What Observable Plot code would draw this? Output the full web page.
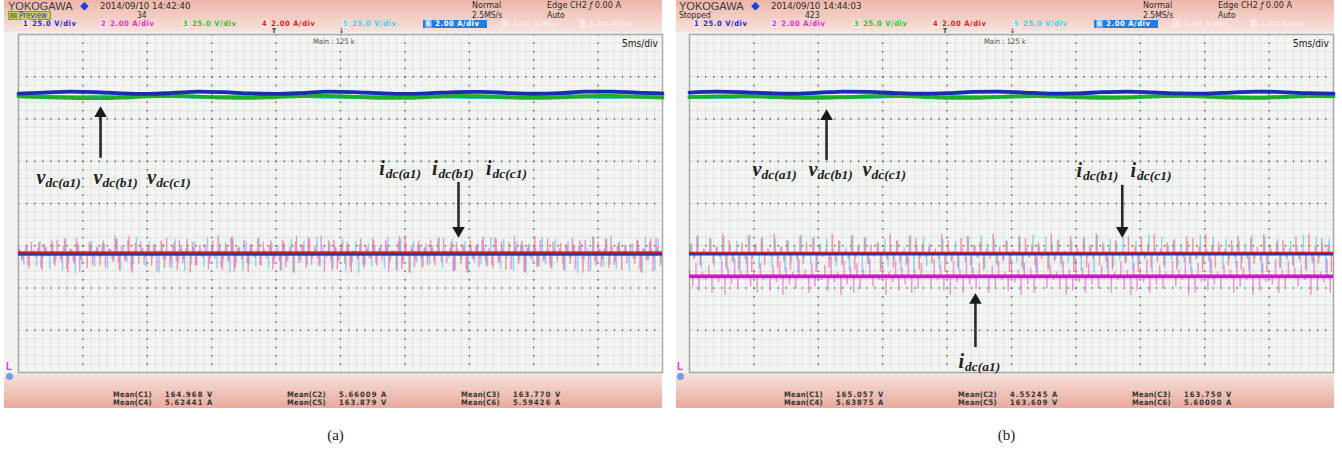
<!DOCTYPE html>
<html>
<head>
<meta charset="utf-8">
<script src="https://cdn.jsdelivr.net/npm/d3@7"></script>
<script src="https://cdn.jsdelivr.net/npm/@observablehq/plot@0.6"></script>
<style>
html,body{margin:0;padding:0;background:#fff;}
#wrap{position:relative;width:1342px;height:450px;overflow:hidden;}
.panel{position:absolute;top:0;width:671px;height:450px;}
.bg{position:absolute;top:0;width:658px;height:408px;background:linear-gradient(to bottom,#edb6a9 0px,#f7e1db 31px,#f1f1ef 33px,#f1f1ef 373px,#f7e1db 374px,#e8aa9b 408px);}
.svgbox{position:absolute;left:0;top:0;}
.t{position:absolute;white-space:nowrap;line-height:1;font-family:"Liberation Sans Narrow","DejaVu Sans Condensed","Liberation Sans",sans-serif;color:#2a2a2a;}
.cap{position:absolute;left:0;width:671px;top:427px;text-align:center;font-family:"Liberation Serif","DejaVu Serif",serif;font-size:15px;color:#222;}
</style>
</head>
<body>
<div id="wrap"></div>
<script>
// ---------- data ----------
const channelNames = ["C1","C2","C3","C4","C5","C6"];
const channelUnits = ["V","A","V","A","V","A"];
const channelPerDiv = [25, 2, 25, 2, 25, 2];
const channelSettingLabels = ["25.0 V/div","2.00 A/div","25.0 V/div","2.00 A/div","25.0 V/div","2.00 A/div","2.00 A/div","1.00 A/div"];
const channelSettingColors = ["#2a2ad0","#e02ed0","#2ec82e","#e42020","#3cd4e4","#ffffff","#fbeeea","#fbeeea"];
const traceColors = ["#1c2cb0","#c81cbc","#1fae2a","#d81c2c","#2ec4d6","#2240a8"];
const spikeColors = [null,"#e45cd0",null,"#f0606c",null,"#5cbcf0"];
const zeroPositionDiv = -4;
const timeDomainMs = [0, 50];
const verticalDomainDiv = [-4, 4];
const voltageStepMs = 2;
const spikeUnitA = 0.1;

const dateTimes = ["2014/09/10 14:42:40","2014/09/10 14:44:03"];
const acqCounts = ["34","423"];
const acqStates = ["Preview","Stopped"];
const captions = ["(a)","(b)"];

const meanA = [164.968, 5.66009, 163.770, 5.62441, 163.879, 5.59426];
const meanB = [165.057, 4.55245, 163.750, 5.63875, 163.609, 5.60000];

// dc-link voltages (V), one value every 2 ms
const voltA_C1 = [164.7,165.2,165.9,165.6,164.8,164.5,165.1,165.9,165.5,164.8,164.5,165.0,165.8,165.6,164.9,164.5,164.9,165.6,165.7,165.0,164.6,164.9,165.8,165.9,165.2,164.8];
const voltA_C3 = [163.9,163.5,163.1,162.9,163.2,163.9,164.2,163.8,163.2,163.0,163.5,164.1,164.2,163.6,163.1,163.0,163.6,164.2,164.0,163.3,163.0,163.3,164.0,164.2,163.7,163.2];
const voltA_C5 = [164.2,163.7,163.3,163.6,164.2,164.4,163.9,163.4,163.5,164.1,164.4,164.0,163.4,163.5,164.0,164.4,164.1,163.5,163.3,163.8,164.3,164.2,163.6,163.3,163.7,164.2];
const voltB_C1 = [165.3,165.8,165.6,164.9,164.6,165.2,165.9,165.7,165.0,164.6,164.9,165.7,165.9,165.3,164.7,164.8,165.5,165.9,165.4,164.8,164.7,165.3,165.9,165.6,164.9,164.7];
const voltB_C3 = [163.5,163.9,164.1,163.7,163.2,163.0,163.4,164.0,164.2,163.7,163.1,163.0,163.6,164.1,164.0,163.4,163.0,163.2,163.9,164.2,163.8,163.2,163.0,163.5,164.1,164.0];
const voltB_C5 = [163.6,163.3,163.6,164.1,164.2,163.8,163.3,163.4,163.9,164.3,164.0,163.4,163.3,163.8,164.2,164.1,163.5,163.3,163.7,164.2,164.1,163.6,163.2,163.5,164.0,164.2];

// dc currents: switching spikes above / below the mean, in units of 0.1 A
const spikeUpA_C2 = "3152416327151428361524173625143817264153261547381625143726158342617254136275184236152473615283146257";
const spikeDnA_C2 = "4617253849162735481629374516283749152638471526394817263549182736415928374651829374615283947162538491";
const spikeUpA_C4 = "2415361725143627185243615273416258314726153847216354172634185263471523648172536481725346182735416273";
const spikeDnA_C4 = "3728164953726148395261748396251847392615849372618459372614859372641859326748159263748519263748159326";
const spikeUpA_C6 = "1426351724163527418362517436281547362815437261845372615438271645382716453827164538271645382716453827";
const spikeDnA_C6 = "5162738495162738451629374851627394856172839451627384956172839465172839456172839465718293846571829384";
const spikeUpB_C2 = "3625174829361574283615927463815274936185273946157283649152738461592736481527394618253749162837451928";
const spikeDnB_C2 = "5728394615827394618527394861529374861527938461852739481625973846182597384615298374618529734861529738";
const spikeUpB_C4 = "4827396158472936185742961837452961874329617845293618745296183749526183749256187394526817394562819374";
const spikeDnB_C4 = "3615274839162748351927463815293746182539471628354917263845192736481529374618253947162835491726384519";
const spikeUpB_C6 = "5927384619582736491857263948157263948517263849571628394857162839475816293847561928374659182736491857";
const spikeDnB_C6 = "2716384952716384925713648295176384926175384927163548291736458291763485291736482591736482951736485291";

// annotation labels (x in ms, y in divisions)
const labelsA = [
  {x:1.40,y:0.62,base:"v",sub:"dc(a1)"},{x:5.82,y:0.62,base:"v",sub:"dc(b1)"},{x:10.0,y:0.62,base:"v",sub:"dc(c1)"},
  {x:28.0,y:0.82,base:"i",sub:"dc(a1)"},{x:32.1,y:0.82,base:"i",sub:"dc(b1)"},{x:36.3,y:0.82,base:"i",sub:"dc(c1)"}];
const labelsB = [
  {x:4.89,y:0.80,base:"v",sub:"dc(a1)"},{x:9.24,y:0.80,base:"v",sub:"dc(b1)"},{x:13.43,y:0.80,base:"v",sub:"dc(c1)"},
  {x:30.05,y:0.77,base:"i",sub:"dc(b1)"},{x:34.24,y:0.77,base:"i",sub:"dc(c1)"},{x:20.89,y:-3.74,base:"i",sub:"dc(a1)"}];
const arrowsA = [{x:6.37,from:1.07,to:2.32},{x:34.16,from:0.50,to:-0.83}];
const arrowsB = [{x:10.64,from:1.02,to:2.25},{x:33.6,from:0.43,to:-0.83},{x:22.2,from:-3.41,to:-2.10}];

const panels = [
  {mean:meanA, volt:[voltA_C1,voltA_C3,voltA_C5], up:[spikeUpA_C2,spikeUpA_C4,spikeUpA_C6], dn:[spikeDnA_C2,spikeDnA_C4,spikeDnA_C6], labels:labelsA, arrows:arrowsA},
  {mean:meanB, volt:[voltB_C1,voltB_C3,voltB_C5], up:[spikeUpB_C2,spikeUpB_C4,spikeUpB_C6], dn:[spikeDnB_C2,spikeDnB_C4,spikeDnB_C6], labels:labelsB, arrows:arrowsB}
];

// ---------- drawing ----------
const toDiv = (v, k) => v / channelPerDiv[k] + zeroPositionDiv;

function txt(parent, html, left, top, css) {
  const d = document.createElement("div");
  d.className = "t";
  d.innerHTML = html;
  d.style.left = left + "px";
  d.style.top = top + "px";
  if (css) d.style.cssText += css;
  parent.appendChild(d);
  return d;
}

function makePlot(P) {
  const minorX = d3.range(0, 50.001, 0.625);
  const minorY = d3.range(-4, 4.001, 0.2);
  const majorX = d3.range(5, 50, 5);
  const majorY = d3.range(-3, 4, 1);
  const span = timeDomainMs[1] - timeDomainMs[0];
  const marks = [
    Plot.frame({fill:"#f3f5f3"}),
    Plot.ruleX(minorX, {stroke:"#d8ddd8", strokeWidth:0.7}),
    Plot.ruleY(minorY, {stroke:"#d8ddd8", strokeWidth:0.7}),
    Plot.ruleX(majorX, {stroke:"#6a6a6a", strokeWidth:1.5, strokeDasharray:"1.5,6.95"}),
    Plot.ruleY(majorY, {stroke:"#6a6a6a", strokeWidth:1.5, strokeDasharray:"1.5,6.55"}),
    Plot.frame({stroke:"#a8a8a8", strokeWidth:1.5})
  ];
  // voltages: cyan (C5), green (C3), blue (C1)
  [[2,4,0.6],[1,2,0.9],[0,0,-0.6]].forEach(([vi,k,sh]) => {
    const rows = P.volt[vi].map((v,i) => ({t:i*voltageStepMs, y:toDiv(v,k)}));
    marks.push(Plot.line(rows, {x:"t", y:"y", stroke:traceColors[k], strokeWidth:3.8, curve:"monotone-x", dy:sh}));
  });
  // current spikes: C6, C4, C2 (up and down spikes interleaved)
  [[2,5,2/3],[1,3,1/3],[0,1,0]].forEach(([ci,k,phase]) => {
    const up = P.up[ci], dn = P.dn[ci], n = up.length, step = span / n;
    const rows = [];
    for (let i = 0; i < n; i++) {
      rows.push({t:(i+phase/2)*step, lo:toDiv(P.mean[k],k), hi:toDiv(P.mean[k] + Number(up[i])*spikeUnitA, k)});
      rows.push({t:(i+0.5+phase/2)*step, lo:toDiv(P.mean[k] - Number(dn[i])*spikeUnitA, k), hi:toDiv(P.mean[k],k)});
    }
    marks.push(Plot.ruleX(rows, {x:"t", y1:"lo", y2:"hi", stroke:spikeColors[k], strokeOpacity:0.62, strokeWidth:1.5}));
  });
  // current mean bands
  [[1,3.6],[3,3.4],[5,2.6]].forEach(([k,w]) => {
    marks.push(Plot.ruleY([toDiv(P.mean[k],k)], {stroke:traceColors[k], strokeWidth:w}));
  });
  // arrows
  const ups = P.arrows.filter(a => a.to > a.from), downs = P.arrows.filter(a => a.to < a.from);
  marks.push(Plot.ruleX(P.arrows, {x:"x", y1:"from", y2:d => d.to - Math.sign(d.to-d.from)*0.15, stroke:"#2a2a2a", strokeWidth:2.6}));
  marks.push(Plot.dot(ups, {x:"x", y:"to", symbol:"triangle2", r:6, fill:"#1a1a1a", dy:8}));
  marks.push(Plot.dot(downs, {x:"x", y:"to", symbol:"triangle2", r:6, fill:"#1a1a1a", rotate:180, dy:-8}));
  // labels
  const font = {fontFamily:"Liberation Serif, DejaVu Serif, serif", fontStyle:"italic", fontWeight:"bold", fill:"#222", textAnchor:"start"};
  marks.push(Plot.text(P.labels, {x:"x", y:"y", text:"base", fontSize:20, ...font}));
  marks.push(Plot.text(P.labels.filter(d=>d.base==="v"), {x:"x", y:"y", text:"sub", fontSize:13.5, dx:9, dy:5, ...font}));
  marks.push(Plot.text(P.labels.filter(d=>d.base==="i"), {x:"x", y:"y", text:"sub", fontSize:13.5, dx:6.5, dy:5, ...font}));
  return Plot.plot({
    width:671, height:418,
    marginLeft:18, marginRight:9, marginTop:34, marginBottom:46,
    x:{domain:timeDomainMs, axis:null},
    y:{domain:verticalDomainDiv, axis:null},
    style:{background:"transparent", overflow:"visible"},
    marks
  });
}

const wrap = document.getElementById("wrap");
panels.forEach((P, idx) => {
  const panel = document.createElement("div");
  panel.className = "panel";
  panel.style.left = (idx*671) + "px";
  wrap.appendChild(panel);
  const bg = document.createElement("div");
  bg.className = "bg";
  bg.style.left = (idx ? 5 : 4) + "px";
  panel.appendChild(bg);
  const box = document.createElement("div");
  box.className = "svgbox";
  box.appendChild(makePlot(P));
  panel.appendChild(box);

  // header
  txt(panel, "YOKOGAWA", 8, 1, "font-family:'Liberation Sans',sans-serif;font-size:11px;color:#3a3a3a;");
  txt(panel, "◆", 80, 0, "font-family:'DejaVu Sans',sans-serif;font-size:11px;color:#1840e0;");
  txt(panel, dateTimes[idx], 100, 1, "font-size:9.5px;");
  if (acqStates[idx] === "Preview")
    txt(panel, "<span style='display:inline-block;width:7px;height:5px;background:#8a9a30;margin-right:2px;vertical-align:0px'></span>Preview", 8, 11,
        "font-size:8px;color:#4a34c8;background:#c6cf70;border:1px solid #8a9a3a;padding:0 3px 0 1px;height:7px;line-height:7px;");
  else
    txt(panel, acqStates[idx], 8, 11, "font-size:8.5px;");
  txt(panel, acqCounts[idx], 137 - (acqCounts[idx].length-2)*3, 11, "font-size:8.5px;");
  txt(panel, "Normal", 472, 1, "font-size:9px;");
  txt(panel, "2.5MS/s", 472, 11, "font-size:8.5px;");
  txt(panel, "Edge CH2 <i>ƒ</i> 0.00 A", 547, 1, "font-size:9px;");
  txt(panel, "Auto", 547, 11, "font-size:8.5px;");
  const chLeft = [22,100,182,261,342,423,502,579];
  channelSettingLabels.forEach((lab, i) => {
    const css = "font-size:7.5px;font-weight:bold;letter-spacing:0.6px;color:" + channelSettingColors[i] + ";" +
      (i===5 ? "background:#1f7fe0;padding:0 8px 0 2px;" : "") + (i>5 ? "opacity:0.85;" : "");
    txt(panel, "<span style='background:rgba(255,255,255,0.35);padding:0 1px'>" + (i+1) + "</span> " + lab, chLeft[i], 20, css);
  });
  txt(panel, "T", 272, 28, "font-size:6.5px;font-weight:bold;color:#333;");
  txt(panel, "↓", 339, 28, "font-size:6.5px;font-weight:bold;color:#333;");
  txt(panel, "Main : 125 k", 313, 38, "font-size:7.5px;color:#555;");
  txt(panel, "5ms/div", 622, 39, "font-size:10px;color:#222;");
  // ground marker
  txt(panel, "L", 6, 362, "font-family:'Liberation Sans',sans-serif;font-size:10px;font-weight:bold;color:#e040c0;");
  txt(panel, "", 6, 373, "width:7px;height:7px;border-radius:50%;background:#70a0e8;");

  // footer means
  const colLeft = [113, 287, 461];
  channelNames.forEach((name, k) => {
    const col = k % 3, row = Math.floor(k / 3);
    const val = channelUnits[k] === "V" ? P.mean[k].toFixed(3) : P.mean[k].toFixed(5);
    txt(panel, "Mean(" + name + ")", colLeft[col], 391 + row*7.5, "font-size:7.5px;font-weight:bold;color:#333;letter-spacing:0.3px;");
    txt(panel, val + " " + channelUnits[k], colLeft[col] + 52, 391 + row*7.5, "font-size:7.5px;font-weight:bold;color:#333;letter-spacing:1.1px;");
  });

  const cap = document.createElement("div");
  cap.className = "cap";
  cap.textContent = captions[idx];
  panel.appendChild(cap);
});
</script>
</body>
</html>
